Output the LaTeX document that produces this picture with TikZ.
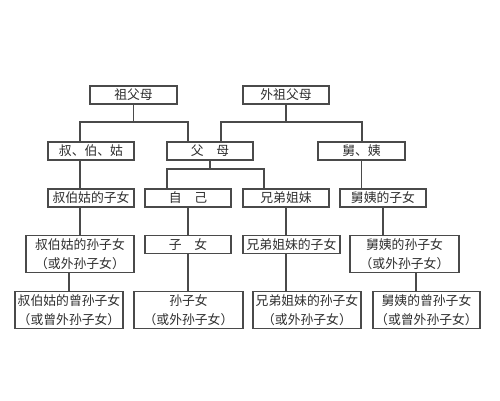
\documentclass[tikz,border=0pt]{standalone}
\usepackage{fontspec}
\usepackage{tikz}
\usetikzlibrary{positioning}
\newfontfamily\cjk{Noto Sans CJK SC}
\definecolor{ink}{HTML}{4A4A4A}
\definecolor{txt}{HTML}{2E2E2E}

\begin{document}
\begin{tikzpicture}[x=0.02cm,y=-0.02cm,
 box/.style={draw=ink,line width=0.6pt,fill=white,text=txt,align=center,
 inner sep=0pt,font=\cjk\fontsize{7.3}{11}\selectfont,
 minimum width=#1*0.02cm,minimum height=18*0.02cm},
 box/.default=86,
 tall/.style={minimum height=37*0.02cm},
 link/.style={draw=ink,line width=0.6pt}]
\useasboundingbox (0,0) rectangle (500,400);
% grandparents
\node[box=87] (zfm) at (133.5,95) {祖父母};
\node[box] (wzfm) at (286,95) {外祖父母};
% parents' generation
\node[box] (sbg) at (91,151) {叔、伯、姑};
\node[box] (fm) at (210,151) {父　母};
\node[box=87] (jy) at (361.5,151) {舅、姨};
% own generation
\node[box] (sbgzn) at (91,198) {叔伯姑的子女};
\node[box] (zj) at (188,198) {自　己};
\node[box] (xdjm) at (286,198) {兄弟姐妹};
\node[box] (jyzn) at (383,198) {舅姨的子女};
% children
\node[box=108,tall] (sbgsun) at (80,254) {叔伯姑的孙子女\\（或外孙子女）};
\node[box] (zn) at (188,244.5) {子　女};
\node[box=97] (xdzn) at (291.5,244.5) {兄弟姐妹的子女};
\node[box=109,tall] (jysun) at (404.5,254) {舅姨的孙子女\\（或外孙子女）};
% grandchildren
\node[box=108,tall] (sbgzeng) at (69,310) {叔伯姑的曾孙子女\\（或曾外孙子女）};
\node[box=109,tall] (sunzn) at (188.5,310) {孙子女\\（或外孙子女）};
\node[box=108,tall] (xdsun) at (307,310) {兄弟姐妹的孙子女\\（或外孙子女）};
\node[box=107,tall] (jyzeng) at (426.5,310) {舅姨的曾孙子女\\（或曾外孙子女）};
% buses
\coordinate (b1l) at (80,122);
\coordinate (b1r) at (188,122);
\coordinate (b2l) at (221,122);
\coordinate (b2r) at (362,122);
\coordinate (b3l) at (167,169);
\coordinate (b3r) at (264,169);
\draw[link] (zfm.south) -- (zfm.south |- b1l);
\draw[link] (sbg.north -| b1l) |- (b1r) -- (fm.north -| b1r);
\draw[link] (wzfm.south) -- (wzfm.south |- b2l);
\draw[link] (fm.north -| b2l) |- (b2r) -- (jy.north -| b2r);
\draw[link] (fm.south) -- (fm.south |- b3l);
\draw[link] (zj.north -| b3l) |- (b3r) -- (xdjm.north -| b3r);
% lines of descent
\draw[link] (sbg.south -| b1l) -- (sbgzn.north -| b1l);
\draw[link] (sbgzn.south -| b1l) -- (sbgsun.north -| b1l);
\draw[link] (sbgsun.south -| sbgzeng) -- (sbgzeng.north);
\draw[link] (zj.south) -- (zn.north);
\draw[link] (zn.south) -- (sunzn.north -| zn);
\draw[link] (xdjm.south) -- (xdzn.north -| xdjm);
\draw[link] (xdzn.south -| xdjm) -- (xdsun.north -| xdjm);
\draw[link] (jy.south) -- (jyzn.north -| jy);
\draw[link] (jyzn.south) -- (jysun.north -| jyzn);
\draw[link] (jysun.south -| 416,0) -- (jyzeng.north -| 416,0);
\end{tikzpicture}
\end{document}
